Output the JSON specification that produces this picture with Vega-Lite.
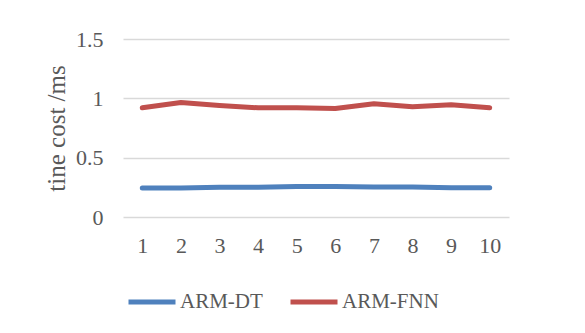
{
  "$schema": "https://vega.github.io/schema/vega-lite/v6.json",
  "width": 386,
  "height": 178,
  "autosize": "none",
  "padding": {"left": 123, "top": 39, "right": 76, "bottom": 116},
  "background": "white",
  "data": {
    "values": [
      {"run": 1, "series": "ARM-DT", "cost": 0.245},
      {"run": 2, "series": "ARM-DT", "cost": 0.245},
      {"run": 3, "series": "ARM-DT", "cost": 0.25},
      {"run": 4, "series": "ARM-DT", "cost": 0.25},
      {"run": 5, "series": "ARM-DT", "cost": 0.257},
      {"run": 6, "series": "ARM-DT", "cost": 0.257},
      {"run": 7, "series": "ARM-DT", "cost": 0.252},
      {"run": 8, "series": "ARM-DT", "cost": 0.252},
      {"run": 9, "series": "ARM-DT", "cost": 0.246},
      {"run": 10, "series": "ARM-DT", "cost": 0.246},
      {"run": 1, "series": "ARM-FNN", "cost": 0.92},
      {"run": 2, "series": "ARM-FNN", "cost": 0.965},
      {"run": 3, "series": "ARM-FNN", "cost": 0.94},
      {"run": 4, "series": "ARM-FNN", "cost": 0.92},
      {"run": 5, "series": "ARM-FNN", "cost": 0.92},
      {"run": 6, "series": "ARM-FNN", "cost": 0.915},
      {"run": 7, "series": "ARM-FNN", "cost": 0.955},
      {"run": 8, "series": "ARM-FNN", "cost": 0.93},
      {"run": 9, "series": "ARM-FNN", "cost": 0.945},
      {"run": 10, "series": "ARM-FNN", "cost": 0.92}
    ]
  },
  "mark": {"type": "line", "strokeWidth": 5, "strokeCap": "round", "strokeJoin": "round"},
  "encoding": {
    "x": {
      "field": "run",
      "type": "ordinal",
      "scale": {"type": "point", "padding": 0.5},
      "axis": {
        "title": null,
        "labelAngle": 0,
        "domain": false,
        "ticks": false,
        "grid": false,
        "labelPadding": 18,
        "labelFont": "Liberation Serif",
        "labelFontSize": 22,
        "labelColor": "#595959"
      }
    },
    "y": {
      "field": "cost",
      "type": "quantitative",
      "scale": {"domain": [0, 1.5], "nice": false},
      "axis": {
        "title": "tine cost /ms",
        "values": [0, 0.5, 1, 1.5],
        "format": "~g",
        "domain": false,
        "ticks": false,
        "gridColor": "#d9d9d9",
        "gridWidth": 1.5,
        "labelPadding": 20,
        "labelFont": "Liberation Serif",
        "labelFontSize": 22,
        "labelColor": "#595959",
        "titleFont": "Liberation Serif",
        "titleFontSize": 25,
        "titleFontWeight": "normal",
        "titleColor": "#595959",
        "titlePadding": 6
      }
    },
    "color": {
      "field": "series",
      "type": "nominal",
      "scale": {"domain": ["ARM-DT", "ARM-FNN"], "range": ["#4f81bd", "#c0504d"]},
      "legend": {
        "title": null,
        "orient": "none",
        "direction": "horizontal",
        "legendX": 3,
        "legendY": 237,
        "symbolType": "stroke",
        "symbolSize": 2209,
        "symbolStrokeWidth": 5,
        "labelOffset": 2,
        "columnPadding": 17,
        "labelFont": "Liberation Serif",
        "labelFontSize": 21,
        "labelColor": "#595959"
      }
    }
  },
  "config": {"view": {"stroke": null}}
}
